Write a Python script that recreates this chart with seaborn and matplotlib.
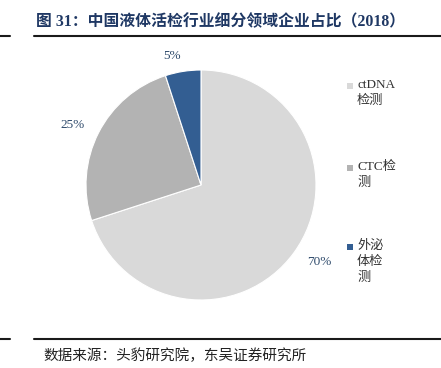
import matplotlib
matplotlib.use("Agg")
import matplotlib.pyplot as plt
import seaborn as sns
from matplotlib.lines import Line2D
from matplotlib.patches import Rectangle

categories = ["ctDNA\n检测", "CTC检\n测", "外泌\n体检\n测"]
values = [70, 25, 5]
pct_labels = ["70%", "25%", "5%"]
colors = ["#D9D9D9", "#B3B3B3", "#335E92"]
title = "图 31：中国液体活检行业细分领域企业占比（2018）"
source = "数据来源：头豹研究院，东吴证券研究所"

sns.set_theme(style="white")
plt.rcParams['font.family'] = ['Liberation Serif', 'Noto Sans CJK SC']

fig = plt.figure(figsize=(4.41, 3.68), dpi=100)
ax = fig.add_axes([201/441 - 115/441, 1 - 185/368 - 115/368, 230/441, 230/368])
wedges, texts = ax.pie(values, labels=pct_labels, colors=colors, startangle=90,
                       counterclock=False, labeldistance=1.14,
                       wedgeprops=dict(linewidth=0.8, edgecolor="white"),
                       textprops=dict(color="#2E4A6B", fontsize=9.5))
ax.set_xlim(-1.0, 1.0)
ax.set_ylim(-1.0, 1.0)
ax.set_aspect("equal")

# legend (manual, top-aligned squares)
leg_tops = [79, 161, 240]
for cat, col, top in zip(categories, colors, leg_tops):
    fig.add_artist(Rectangle((347/441, 1 - (top + 10)/368), 6/441, 6/368,
                             transform=fig.transFigure, facecolor=col, edgecolor="none"))
    fig.text(357/441, 1 - top/368, cat, ha="left", va="top", fontsize=9.5,
             color="#333333", linespacing=1.45)

fig.text(0.5, 1 - 22/368, title, ha="center", va="center", fontsize=11.4,
         fontweight="bold", color="#1F3864")
fig.text(43/441, 1 - 356/368, source, ha="left", va="center", fontsize=10.5, color="#222222")

for y in (36, 339):
    yf = 1 - y/368
    fig.add_artist(Line2D([0, 10/441], [yf, yf], color="#1a1a1a", lw=1.5, transform=fig.transFigure))
    fig.add_artist(Line2D([34/441, 1], [yf, yf], color="#1a1a1a", lw=1.5, transform=fig.transFigure))

fig.savefig("out.png", dpi=100)
